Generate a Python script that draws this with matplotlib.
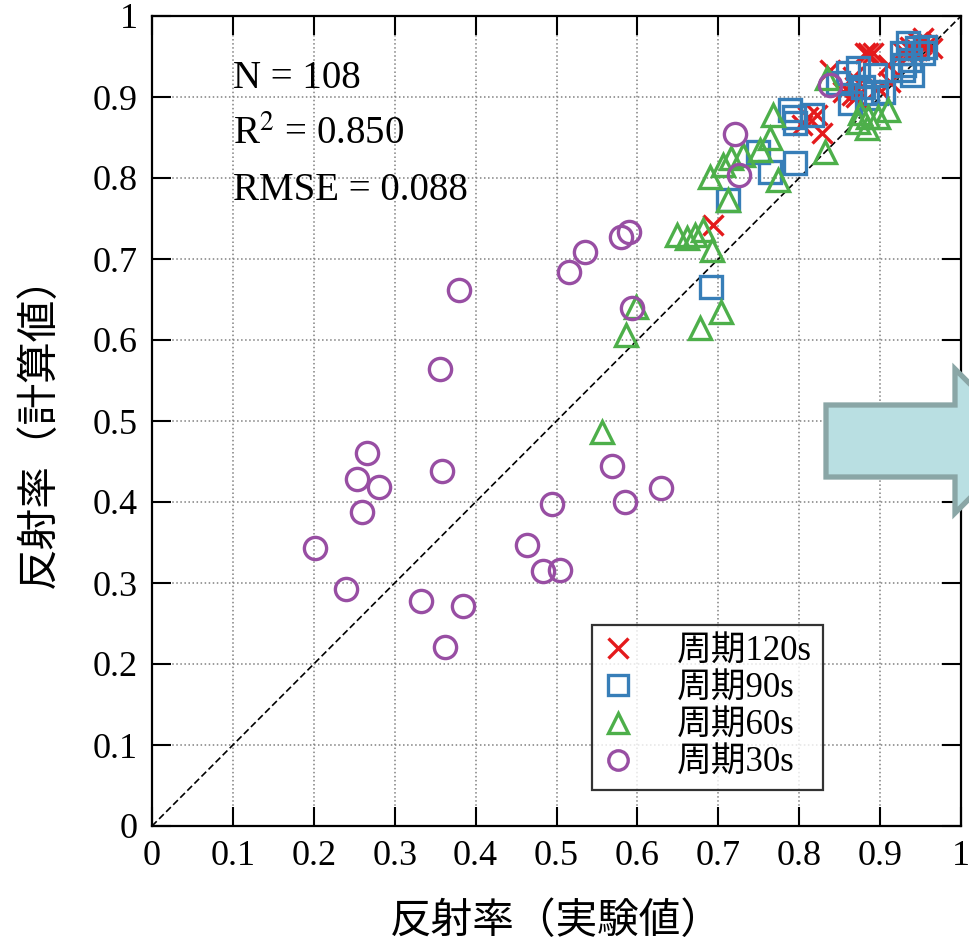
import matplotlib
matplotlib.use("Agg")
import matplotlib.pyplot as plt
from matplotlib.patches import Polygon

plt.rcParams["font.family"] = ["Liberation Serif", "Noto Sans CJK JP"]
plt.rcParams["mathtext.fontset"] = "stix"

# 周期120s
x120 = [0.838, 0.885, 0.881, 0.891, 0.867, 0.854, 0.865, 0.869, 0.897, 0.912,
        0.910, 0.928, 0.937, 0.947, 0.953, 0.958, 0.964, 0.933, 0.945, 0.811,
        0.822, 0.803, 0.828, 0.693, 0.950, 0.940, 0.870]
y120 = [0.933, 0.954, 0.954, 0.954, 0.925, 0.906, 0.902, 0.912, 0.911, 0.919,
        0.940, 0.956, 0.962, 0.968, 0.973, 0.964, 0.960, 0.952, 0.958, 0.875,
        0.878, 0.865, 0.856, 0.742, 0.965, 0.955, 0.900]
# 周期90s
x90 = [0.848, 0.873, 0.894, 0.879, 0.863, 0.884, 0.927, 0.937, 0.945, 0.928,
       0.939, 0.953, 0.934, 0.904, 0.789, 0.793, 0.795, 0.816, 0.749, 0.764,
       0.795, 0.712, 0.691, 0.860, 0.895, 0.930, 0.955]
y90 = [0.917, 0.936, 0.927, 0.912, 0.893, 0.899, 0.954, 0.946, 0.960, 0.933,
       0.927, 0.954, 0.967, 0.906, 0.884, 0.875, 0.868, 0.878, 0.832, 0.807,
       0.818, 0.773, 0.665, 0.930, 0.905, 0.940, 0.962]
# 周期60s
x60 = [0.768, 0.764, 0.752, 0.731, 0.832, 0.774, 0.873, 0.884, 0.885, 0.897,
       0.910, 0.834, 0.556, 0.598, 0.586, 0.649, 0.661, 0.671, 0.681, 0.692,
       0.703, 0.677, 0.712, 0.690, 0.706, 0.716, 0.875]
y60 = [0.878, 0.849, 0.835, 0.828, 0.832, 0.798, 0.869, 0.862, 0.875, 0.875,
       0.884, 0.923, 0.486, 0.641, 0.606, 0.730, 0.726, 0.730, 0.736, 0.711,
       0.635, 0.615, 0.773, 0.801, 0.816, 0.825, 0.880]
# 周期30s
x30 = [0.379, 0.356, 0.266, 0.253, 0.280, 0.358, 0.260, 0.201, 0.240, 0.332,
       0.384, 0.362, 0.568, 0.629, 0.585, 0.495, 0.463, 0.483, 0.504, 0.516,
       0.535, 0.580, 0.589, 0.593, 0.721, 0.726, 0.838]
y30 = [0.662, 0.564, 0.460, 0.428, 0.419, 0.438, 0.388, 0.343, 0.293, 0.278,
       0.272, 0.221, 0.444, 0.417, 0.400, 0.397, 0.347, 0.315, 0.316, 0.684,
       0.709, 0.727, 0.733, 0.639, 0.854, 0.804, 0.915]

series = [
    ("周期120s", x120, y120, "x", "#e41a1c"),
    ("周期90s", x90, y90, "s", "#377eb8"),
    ("周期60s", x60, y60, "^", "#4daf4a"),
    ("周期30s", x30, y30, "o", "#984ea3"),
]

ticks = [0, 0.1, 0.2, 0.3, 0.4, 0.5, 0.6, 0.7, 0.8, 0.9, 1]
tick_labels = ["0", "0.1", "0.2", "0.3", "0.4", "0.5", "0.6", "0.7", "0.8", "0.9", "1"]
stats = ["N = 108", r"R$^\mathrm{2}$ = 0.850", "RMSE = 0.088"]

fig = plt.figure(figsize=(9.69, 9.41), dpi=100)
ax = fig.add_axes([152 / 969, 115 / 941, 809 / 969, 810 / 941])

ax.plot([0, 1], [0, 1], color="black", lw=1.2, ls=(0, (4, 2)), zorder=2)

for name, xs, ys, mk, col in series:
    ms = 15 if mk == "x" else 16
    ax.plot(xs, ys, ls="none", marker=mk, ms=ms, mfc="none", mec=col,
            mew=2.4, label=name, zorder=3)

ax.set_xlim(0, 1)
ax.set_ylim(0, 1)
ax.set_xticks(ticks)
ax.set_yticks(ticks)
ax.set_xticklabels(tick_labels)
ax.set_yticklabels(tick_labels)
ax.tick_params(direction="in", length=14, width=1.5, labelsize=26,
               top=True, right=True, pad=10)
ax.grid(True, color="gray", ls=":", lw=1.1)
for s in ax.spines.values():
    s.set_linewidth(1.6)

ax.set_xlabel("反射率（実験値）", family="Noto Sans CJK JP", fontsize=30, labelpad=20)
ax.set_ylabel("反射率（計算値）", family="Noto Sans CJK JP", fontsize=30, labelpad=24)

for i, t in enumerate(stats):
    ax.text(0.1, 0.911 - i * 0.069, t, fontsize=28, ha="left", va="baseline")

leg = ax.legend(loc="lower left", bbox_to_anchor=(0.544, 0.044), fontsize=25,
                frameon=True, fancybox=False, edgecolor="black",
                handletextpad=1.25, handlelength=0.9, borderpad=0.3,
                labelspacing=0.12, borderaxespad=0)
leg.get_frame().set_linewidth(1.6)
for h in leg.legend_handles:
    h.set_markersize(14)

# arrow decoration on the right edge (pixel coords, top-left origin)
arrow_px = [(826, 405), (955, 405), (955, 369), (1027, 441), (955, 513),
            (955, 477), (826, 477)]
arrow_fig = [(px / 969, 1 - py / 941) for px, py in arrow_px]
fig.patches.append(Polygon(arrow_fig, closed=True, transform=fig.transFigure,
                           facecolor="#b9dfe2", edgecolor="#8aa6a6", lw=3.8,
                           zorder=5))

fig.savefig("out.png", dpi=100)
